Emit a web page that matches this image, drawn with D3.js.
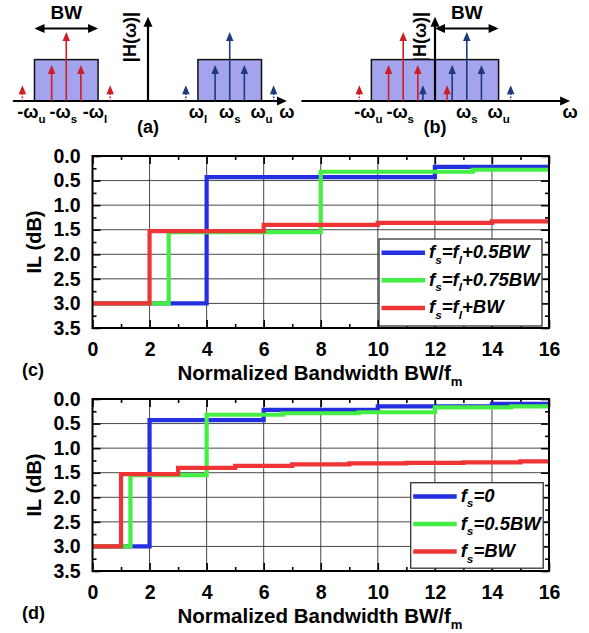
<!DOCTYPE html>
<html>
<head>
<meta charset="utf-8">
<script src="https://cdn.jsdelivr.net/npm/d3@7"></script>
<style>
  body { margin: 0; background: #fff; }
  text { font-family: "Liberation Sans", Arial, sans-serif; font-weight: bold; }
</style>
</head>
<body>
<svg width="589" height="633"></svg>
<script>
// axes of the two IL plots
var bwDomain = [0, 16];
var ilDomain = [0, 3.5];

// (c) step curves: x = BW/fm where a step begins, il = IL (dB) from there on
var c05X = [0, 4, 12];
var c05IL = [3.0, 0.43, 0.22];
var c075X = [0, 2.67, 8, 13.33];
var c075IL = [3.0, 1.55, 0.32, 0.28];
var c1X = [0, 2, 6, 10, 14];
var c1IL = [3.0, 1.53, 1.40, 1.36, 1.33];

// (d) step curves
var d0X = [0, 2, 6, 10, 14];
var d0IL = [3.0, 0.43, 0.22, 0.15, 0.10];
var d05X = [0, 1.33, 4, 6.67, 9.33, 12, 14.67];
var d05IL = [3.0, 1.55, 0.32, 0.29, 0.27, 0.17, 0.15];
var d1X = [0, 1, 3, 5, 7, 9, 11, 13, 15];
var d1IL = [3.0, 1.53, 1.40, 1.36, 1.33, 1.31, 1.30, 1.29, 1.27];

var legendC = ["f_s=f_l+0.5BW", "f_s=f_l+0.75BW", "f_s=f_l+BW"];
var legendD = ["f_s=0", "f_s=0.5BW", "f_s=BW"];
var colors = ["#2430e0", "#44ee44", "#ee3434"];

// spectrum sketches (a),(b); frequency unit = BW/2
var toneOffsets = [-1.38, -0.46, 0, 0.46, 1.38];
var toneHeights = [0.23, 0.52, 1, 0.52, 0.23];
var boxHeight = 0.6;
var wsA = 2.57, wsB = 1;
var labelsA = ["-ω_u", "-ω_s", "-ω_l", "ω_l", "ω_s", "ω_u"];
var labelsB = ["-ω_u", "-ω_s", "ω_s", "ω_u"];

var svg = d3.select("svg");

// text with one-char subscripts written as _x
function rich(t, str) {
  var fs = parseFloat(t.attr("font-size")), sub = false;
  str.split(/(_.)/).forEach(function(p) {
    if (!p) return;
    if (p[0] === "_") {
      t.append("tspan").text(p[1]).attr("font-size", fs * 0.64).attr("dy", fs * 0.3);
      sub = true;
    } else {
      var s = t.append("tspan").text(p);
      if (sub) { s.attr("dy", -fs * 0.3); sub = false; }
    }
  });
  return t;
}

function head(g, x, y, dir, len, w, col) {
  var p;
  if (dir == "up") p = [[x, y], [x - w / 2, y + len], [x + w / 2, y + len]];
  else if (dir == "right") p = [[x, y], [x - len, y - w / 2], [x - len, y + w / 2]];
  else p = [[x, y], [x + len, y - w / 2], [x + len, y + w / 2]];
  g.append("path").attr("d", "M" + p.join("L") + "Z").attr("fill", col);
}

var unit = 31.8;
var yS = d3.scaleLinear().domain([0, 1]).range([101, 32]);

function spectrum(x0, ws, bands, labels, labelPos, bw, axisEnds, hX, tag) {
  var x = d3.scaleLinear().domain([0, 1]).range([x0, x0 + unit]);
  var g = svg.append("g");

  g.append("text").attr("font-size", 18).attr("text-anchor", "middle")
    .attr("transform", "translate(" + hX + ",37) rotate(-90)").text("|H(ω)|");

  g.selectAll("rect").data(bands).join("rect")
    .attr("x", d => x(d[0])).attr("width", d => x(d[1]) - x(d[0]))
    .attr("y", yS(boxHeight)).attr("height", yS(0) - yS(boxHeight))
    .attr("fill", "#a4a4ee").attr("stroke", "#111").attr("stroke-width", 1.5);

  // axes
  g.append("line").attr("x1", x(axisEnds[0])).attr("x2", x(axisEnds[1]) - 8)
    .attr("y1", yS(0)).attr("y2", yS(0)).attr("stroke", "#000").attr("stroke-width", 2.2);
  head(g, x(axisEnds[1]), yS(0), "right", 10, 9, "#000");
  g.append("line").attr("x1", x(0)).attr("x2", x(0)).attr("y1", yS(0)).attr("y2", yS(1.22) + 8)
    .attr("stroke", "#000").attr("stroke-width", 2.2);
  head(g, x(0), yS(1.22), "up", 10, 9, "#000");

  // tones
  var tones = [];
  [-ws, ws].forEach(function(c, gi) {
    toneOffsets.forEach(function(o, i) {
      var f = c + o;
      var inBand = bands.some(b => f >= b[0] && f <= b[1]);
      tones.push({ f: f, h: toneHeights[i], col: gi ? "#1d3a7c" : "#cc1e24", dotted: !inBand });
    });
  });
  tones.forEach(function(t) {
    g.append("line").attr("x1", x(t.f)).attr("x2", x(t.f))
      .attr("y1", yS(0)).attr("y2", yS(t.h) + 7)
      .attr("stroke", t.col).attr("stroke-width", 1.6)
      .attr("stroke-dasharray", t.dotted ? "1.5,1.5" : null);
    head(g, x(t.f), yS(t.h), "up", 9, 7.5, t.col);
  });

  // BW span
  var by = 28.5;
  g.append("line").attr("x1", x(bw[0]) + 8).attr("x2", x(bw[1]) - 8)
    .attr("y1", by).attr("y2", by).attr("stroke", "#000").attr("stroke-width", 2);
  head(g, x(bw[0]), by, "left", 10, 9, "#000");
  head(g, x(bw[1]), by, "right", 10, 9, "#000");
  g.append("text").attr("x", x((bw[0] + bw[1]) / 2)).attr("y", 19)
    .attr("font-size", 19).attr("text-anchor", "middle").text("BW");

  labels.forEach(function(l, i) {
    rich(g.append("text").attr("x", x(labelPos[i]) - (l[0] == "-" ? 3 : 0)).attr("y", 118)
      .attr("font-size", 18).attr("text-anchor", "middle"), l);
  });
  g.append("text").attr("x", x(axisEnds[1])).attr("y", 118).attr("font-size", 18)
    .attr("text-anchor", "middle").text("ω");
  g.append("text").attr("x", x(0)).attr("y", 133).attr("font-size", 18)
    .attr("text-anchor", "middle").text(tag);
}

spectrum(148, wsA, [[-wsA - 1, -wsA + 1], [wsA - 1, wsA + 1]], labelsA,
  [-wsA - 1, -wsA, -wsA + 1, wsA - 1, wsA, wsA + 1], [-wsA - 1, -wsA + 1], [-4.25, 4.37], 136, "(a)");
spectrum(435, wsB, [[-wsB - 1, 0], [0, wsB + 1]], labelsB,
  [-wsB - 1, -wsB, wsB, wsB + 1], [0, wsB + 1], [-4.2, 4.25], 426, "(b)");

function chart(top, xs, ils, names, leg, tag) {
  var x = d3.scaleLinear().domain(bwDomain).range([92.5, 549]);
  var y = d3.scaleLinear().domain(ilDomain).range([top, top + 172]);
  var g = svg.append("g");

  g.selectAll("line.gx").data(d3.range(2, 16, 2)).join("line").attr("class", "gx")
    .attr("x1", x).attr("x2", x).attr("y1", y(0)).attr("y2", y(3.5))
    .attr("stroke", "#333").attr("stroke-width", 0.9);
  g.selectAll("line.gy").data(d3.range(0.5, 3.5, 0.5)).join("line").attr("class", "gy")
    .attr("y1", y).attr("y2", y).attr("x1", x(0)).attr("x2", x(16))
    .attr("stroke", "#333").attr("stroke-width", 0.9);

  var xMaj = d3.range(0, 17, 2), xMin = d3.range(1, 16, 2);
  var yMaj = d3.range(0, 3.6, 0.5), yMin = d3.range(0.25, 3.5, 0.5);

  var ax = [
    [d3.axisBottom, "translate(0," + y(3.5) + ")", x, true],
    [d3.axisTop, "translate(0," + y(0) + ")", x, false],
    [d3.axisLeft, "translate(" + x(0) + ",0)", y, true],
    [d3.axisRight, "translate(" + x(16) + ",0)", y, false]
  ];
  ax.forEach(function(a) {
    var isX = a[2] === x;
    var major = a[0](a[2]).tickValues(isX ? xMaj : yMaj).tickSizeInner(-8).tickSizeOuter(0)
      .tickPadding(isX ? 14 : 12)
      .tickFormat(a[3] ? (isX ? d3.format("d") : d3.format(".1f")) : "");
    var minor = a[0](a[2]).tickValues(isX ? xMin : yMin).tickSizeInner(-4).tickSizeOuter(0).tickFormat("");
    var ga = g.append("g").attr("transform", a[1]).call(major);
    var gm = g.append("g").attr("transform", a[1]).call(minor);
    [ga, gm].forEach(function(s) {
      s.select(".domain").remove();
      s.selectAll("line").attr("stroke-width", 1.6);
    });
    ga.attr("font-size", 19.5);
  });

  // curves, blue first so red ends on top
  var line = d3.line().x(d => x(d[0])).y(d => y(d[1])).curve(d3.curveStepAfter);
  xs.forEach(function(xv, i) {
    var pts = xv.map((v, j) => [v, ils[i][j]]);
    pts.push([16, ils[i][ils[i].length - 1]]);
    g.append("path").datum(pts).attr("d", line).attr("fill", "none")
      .attr("stroke", colors[i]).attr("stroke-width", 4.2);
  });

  g.append("rect").attr("x", x(0)).attr("y", y(0)).attr("width", x(16) - x(0)).attr("height", y(3.5) - y(0))
    .attr("fill", "none").attr("stroke", "#000").attr("stroke-width", 2);

  // legend
  var lg = g.append("g");
  lg.append("rect").attr("x", leg[0]).attr("y", leg[1]).attr("width", leg[2]).attr("height", leg[3])
    .attr("fill", "#fff").attr("stroke", "#333").attr("stroke-width", 1.3);
  names.forEach(function(n, i) {
    var ry = leg[1] + 13.7 + i * 27.6;
    lg.append("line").attr("x1", leg[0] + 2.5).attr("x2", leg[0] + leg[4])
      .attr("y1", ry).attr("y2", ry).attr("stroke", colors[i]).attr("stroke-width", 4.5);
    rich(lg.append("text").attr("x", leg[0] + leg[4] + 4).attr("y", ry + 5.5)
      .attr("font-size", 18.5).attr("font-style", "italic"), n);
  });

  g.append("text").attr("font-size", 20).attr("text-anchor", "middle")
    .attr("transform", "translate(41," + y(1.75) + ") rotate(-90)").text("IL (dB)");
  rich(g.append("text").attr("x", 320).attr("y", y(3.5) + 52).attr("font-size", 20.5)
    .attr("text-anchor", "middle"), "Normalized Bandwidth BW/f_m");
  g.append("text").attr("x", 22).attr("y", y(3.5) + 48).attr("font-size", 18).text(tag);
}

chart(156, [c05X, c075X, c1X], [c05IL, c075IL, c1IL], legendC, [379, 239, 163, 87, 46], "(c)");
chart(399, [d0X, d05X, d1X], [d0IL, d05IL, d1IL], legendD, [410.7, 482.7, 132.5, 85.5, 46], "(d)");
</script>
</body>
</html>
